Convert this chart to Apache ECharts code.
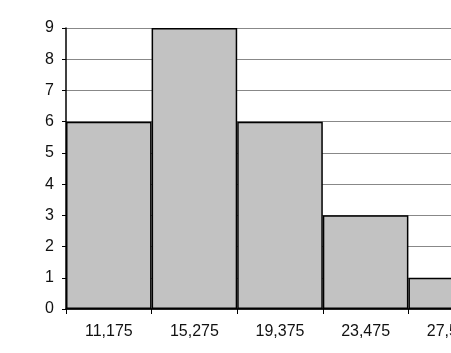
<!DOCTYPE html>
<html><head><meta charset="utf-8">
<script src="https://cdn.jsdelivr.net/npm/echarts@6/dist/echarts.min.js"></script>
<style>html,body{margin:0;padding:0;background:#fff;overflow:hidden;width:451px;height:353px}#c{width:494px;height:353px}</style>
</head><body><div id="c"></div>
<script>
const categories = ["11,175", "15,275", "19,375", "23,475", "27,575"];
const counts = [6, 9, 6, 3, 1];
const yTicks = [0, 9, 1];

const chart = echarts.init(document.getElementById('c'), null, {renderer: 'canvas'});
chart.setOption({
  animation: false,
  backgroundColor: '#fff',
  grid: {left: 66, right: 0, top: 28, bottom: 44, containLabel: false},
  xAxis: {
    type: 'category',
    data: categories,
    boundaryGap: true,
    axisLine: {lineStyle: {color: '#000', width: 1.5}},
    axisTick: {show: true, alignWithLabel: false, length: 5, lineStyle: {color: '#000'}},
    axisLabel: {color: '#111', fontFamily: 'Liberation Sans, Arial, sans-serif', fontSize: 16, margin: 15}
  },
  yAxis: {
    type: 'value',
    min: yTicks[0], max: yTicks[1], interval: yTicks[2],
    axisLine: {show: true, lineStyle: {color: '#000', width: 1.5}},
    axisTick: {show: true, length: 4, lineStyle: {color: '#000'}},
    axisLabel: {color: '#111', fontFamily: 'Liberation Sans, Arial, sans-serif', fontSize: 16, margin: 12},
    splitLine: {show: true, lineStyle: {color: '#888', width: 1}}
  },
  series: [{
    type: 'bar',
    data: counts,
    barCategoryGap: '0%',
    itemStyle: {color: '#c2c2c2', borderColor: '#000', borderWidth: 1.5}
  }]
});
</script></body></html>
